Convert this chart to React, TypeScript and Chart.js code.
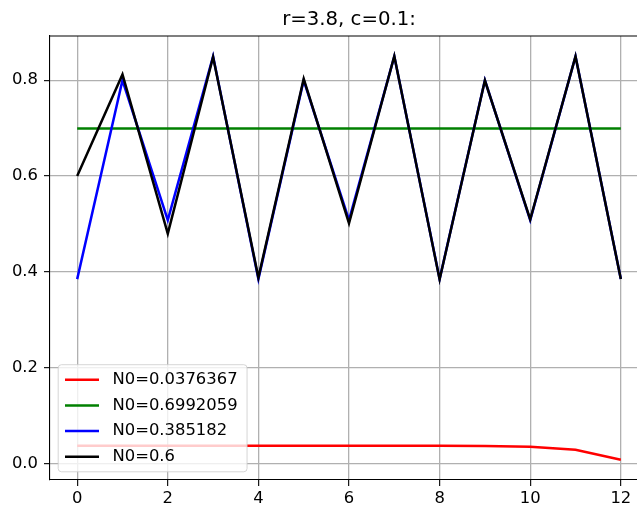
import React, { useEffect, useRef } from "react";
import { Chart, registerables } from "chart.js";

Chart.register(...registerables);

const steps = [0, 1, 2, 3, 4, 5, 6, 7, 8, 9, 10, 11, 12];
const seriesLabels = ["N0=0.0376367", "N0=0.6992059", "N0=0.385182", "N0=0.6"];
const seriesColors = ["#ff0000", "#008000", "#0000ff", "#000000"];
const redValues = [0.0376367, 0.0376367, 0.0376366, 0.0376364, 0.0376355, 0.037634, 0.037624, 0.037583, 0.037446, 0.036968, 0.035287, 0.02936, 0.0083];
const greenValues = [0.6992059, 0.6992059, 0.6992059, 0.6992059, 0.6992059, 0.6992059, 0.6992059, 0.6992059, 0.6992059, 0.6992059, 0.6992059, 0.6992059, 0.6992059];
const blueValues = [0.385182, 0.799904, 0.508219, 0.849743, 0.385183, 0.7999, 0.50822, 0.84974, 0.38518, 0.7999, 0.50822, 0.84974, 0.38518];
const blackValues = [0.6, 0.812, 0.4800928, 0.8484941, 0.3884971, 0.802755, 0.5016897, 0.8499892, 0.3845289, 0.7993324, 0.5095205, 0.8496556, 0.3854162];
const xTicks = [0, 2, 4, 6, 8, 10, 12];
const yTicks = [0.0, 0.2, 0.4, 0.6, 0.8];
const titleText = "r=3.8, c=0.1:";

const FONT = '"DejaVu Sans", sans-serif';
const TICK_FS = 16.4;

const mplPlugin = {
  id: "mplDecor",
  afterDatasetsDraw(chart: any) {
    const { ctx, chartArea } = chart;
    ctx.save();
    // top spine
    ctx.strokeStyle = "#000";
    ctx.lineWidth = 1.1;
    ctx.beginPath();
    ctx.moveTo(chartArea.left, chartArea.top);
    ctx.lineTo(chartArea.right, chartArea.top);
    ctx.stroke();

    // legend
    const fs = 16.4;
    ctx.font = `${fs}px ${FONT}`;
    const pad = 6.8;
    const padRight = 9.5;
    const handle = 34;
    const htp = 13.5;
    const rowH = 25.7;
    const textH = fs;
    const textW = Math.max(...seriesLabels.map((l) => ctx.measureText(l).width));
    const w = pad + handle + htp + textW + padRight;
    const h = pad * 2 + rowH * (seriesLabels.length - 1) + textH;
    const left = chartArea.left + 8.2;
    const bottom = chartArea.bottom - 8.2;
    const top = bottom - h;
    const r = 3.3;
    ctx.beginPath();
    ctx.moveTo(left + r, top);
    ctx.lineTo(left + w - r, top);
    ctx.arcTo(left + w, top, left + w, top + r, r);
    ctx.lineTo(left + w, top + h - r);
    ctx.arcTo(left + w, top + h, left + w - r, top + h, r);
    ctx.lineTo(left + r, top + h);
    ctx.arcTo(left, top + h, left, top + h - r, r);
    ctx.lineTo(left, top + r);
    ctx.arcTo(left, top, left + r, top, r);
    ctx.closePath();
    ctx.fillStyle = "rgba(255,255,255,0.8)";
    ctx.fill();
    ctx.strokeStyle = "rgba(204,204,204,0.8)";
    ctx.lineWidth = 1;
    ctx.stroke();

    seriesLabels.forEach((label, i) => {
      const cy = top + pad + textH / 2 + i * rowH;
      ctx.strokeStyle = seriesColors[i];
      ctx.lineWidth = 2.5;
      ctx.beginPath();
      ctx.moveTo(left + pad, cy);
      ctx.lineTo(left + pad + handle, cy);
      ctx.stroke();
      ctx.fillStyle = "#000";
      ctx.textBaseline = "middle";
      ctx.textAlign = "left";
      ctx.fillText(label, left + pad + handle + htp, cy);
    });
    ctx.restore();
  },
};

export default function App() {
  const ref = useRef<HTMLCanvasElement>(null);
  useEffect(() => {
    if (!ref.current) return;
    const allSeries = [redValues, greenValues, blueValues, blackValues];
    const chart = new Chart(ref.current, {
      type: "line",
      data: {
        datasets: allSeries.map((vals, i) => ({
          label: seriesLabels[i],
          data: steps.map((s, j) => ({ x: s, y: vals[j] })),
          borderColor: seriesColors[i],
          backgroundColor: seriesColors[i],
          borderWidth: 2.5,
          pointRadius: 0,
          tension: 0,
          fill: false,
          order: allSeries.length - 1 - i,
        })),
      },
      options: {
        animation: false,
        responsive: false,
        devicePixelRatio: 1,
        layout: { padding: { left: 0, right: 50, top: 0, bottom: 0 } },
        plugins: {
          legend: { display: false },
          tooltip: { enabled: false },
          title: {
            display: true,
            text: titleText,
            fullSize: false,
            color: "#000",
            font: { family: FONT, size: 19.7, weight: "normal", lineHeight: 1.2 },
            padding: { top: 8, bottom: 4.4 },
          },
        },
        scales: {
          x: {
            type: "linear",
            min: -0.6,
            max: 12.6,
            afterBuildTicks: (scale: any) => {
              scale.ticks = xTicks.map((v) => ({ value: v }));
            },
            afterFit: (scale: any) => {
              scale.height = 29;
            },
            grid: { color: "#b0b0b0", lineWidth: 1.3, tickLength: 6, tickColor: "#000", tickWidth: 1.1 },
            border: { display: true, color: "#000", width: 1.1 },
            ticks: {
              color: "#000",
              font: { family: FONT, size: TICK_FS },
              padding: 3,
              maxRotation: 0,
              autoSkip: false,
              callback: (v: any) => String(v),
            },
          },
          y: {
            type: "linear",
            min: -0.0338,
            max: 0.8921,
            afterBuildTicks: (scale: any) => {
              scale.ticks = yTicks.map((v) => ({ value: v }));
            },
            afterFit: (scale: any) => {
              scale.width = 50;
            },
            grid: { color: "#b0b0b0", lineWidth: 1.3, tickLength: 6, tickColor: "#000", tickWidth: 1.1 },
            border: { display: true, color: "#000", width: 1.1 },
            ticks: {
              color: "#000",
              font: { family: FONT, size: TICK_FS },
              padding: 6,
              autoSkip: false,
              callback: (v: any) => Number(v).toFixed(1),
            },
          },
        },
      },
      plugins: [mplPlugin],
    });
    return () => chart.destroy();
  }, []);

  return (
    <div style={{ position: "fixed", left: 0, top: 0, width: 637, height: 509, overflow: "hidden", background: "#fff" }}>
      <canvas ref={ref} width={698} height={509} style={{ display: "block", width: 698, height: 509 }} />
    </div>
  );
}
